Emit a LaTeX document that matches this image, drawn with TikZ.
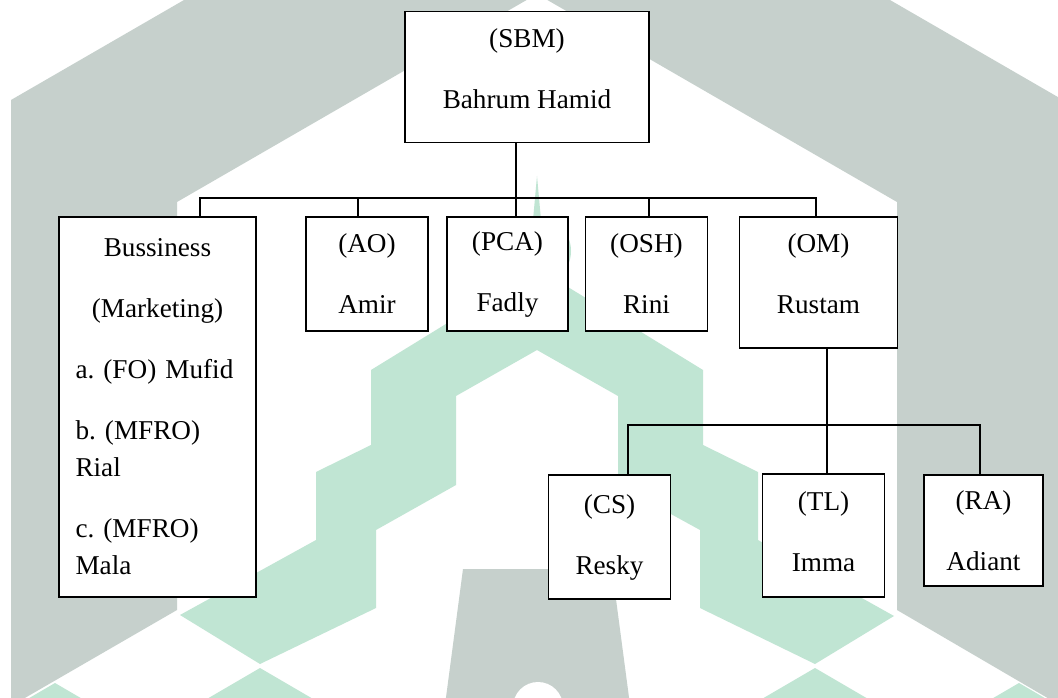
\documentclass[tikz,border=0pt]{standalone}
\usepackage{fontspec}
\setmainfont{Liberation Serif}
\definecolor{LogoGrey}{HTML}{C6D0CC}
\definecolor{LogoGreen}{HTML}{C0E5D3}

\begin{document}
\begin{tikzpicture}[x=1pt, y=-1pt,
		unit/.style={rectangle, draw=black, fill=white, line width=1.8pt, align=center, inner sep=0pt,
			font=\fontsize{27.2}{37}\selectfont\frenchspacing},
		link/.style={line width=1.5pt}]
	\useasboundingbox (0,0) rectangle (1058,698);
	\clip (0,0) rectangle (1058,698);
	\fill[white] (0,0) rectangle (1058,698);
	% watermark
	\fill[LogoGrey] (11,706) -- (11,100) -- (537,-204) -- (1063,100) -- (1063,707) -- (897,610) -- (897,202) -- (537,-6) -- (177,202) -- (177,610) -- cycle;
	\fill[LogoGreen] (537,268) -- (703,370) -- (703,445) -- (758,472) -- (758,540) -- (894,616) -- (815,664) -- (700,608) -- (700,530) -- (618,485) -- (618,396) -- (537,350) -- (456,396) -- (456,485) -- (376,530) -- (376,608) -- (260,664) -- (180,615) -- (316,540) -- (316,472) -- (371,445) -- (371,370) -- cycle;
	\fill[LogoGreen] (537,251) circle[radius=34pt];
	\fill[LogoGreen] (537,176) -- (541,220) -- (533,220) -- cycle;
	\foreach \x/\y in {55/683, 260/668, 815/668, 1019/683}
		\fill[LogoGreen] (\x,\y) -- ++(60,35) -- ++(-60,35) -- ++(-60,-35) -- cycle;
	\fill[LogoGrey] (463,569) -- (612,569) -- (630,705) -- (445,705) -- cycle;
	\fill[white] (538,707) circle[radius=25pt];

	\node[unit, minimum width=244pt, minimum height=131pt] (SBM) at (527,77) {(SBM)\\[24pt]Bahrum Hamid\rule[-16pt]{0pt}{0pt}};
	\node[unit, minimum width=197pt, minimum height=380pt, text width=164pt, align=left] (Biz) at (157.5,407) {\hyphenpenalty=10000\makebox[164pt]{Bussiness}\\[24pt]\makebox[164pt]{(Marketing)}\\[24pt]a. (FO) Mufid\\[24pt]b. (MFRO)\\Rial\\[24pt]c. (MFRO)\\Mala};
	\node[unit, minimum width=122pt, minimum height=114pt] (AO) at (367,274) {(AO)\\[24pt]Amir};
	\node[unit, minimum width=121pt, minimum height=114pt] (PCA) at (507.5,274) {(PCA)\\[24pt]Fadly};
	\node[unit, minimum width=122pt, minimum height=114pt] (OSH) at (646.5,274) {(OSH)\\[24pt]Rini};
	\node[unit, minimum width=158pt, minimum height=131pt] (OM) at (818.5,282.5) {(OM)\\[24pt]Rustam\rule[-18pt]{0pt}{0pt}};
	\node[unit, minimum width=122pt, minimum height=124pt] (CS) at (609.5,537) {(CS)\\[24pt]Resky};
	\node[unit, minimum width=122pt, minimum height=123pt] (TL) at (823.5,535.5) {(TL)\\[24pt]Imma\rule[-8pt]{0pt}{0pt}};
	\node[unit, minimum width=119pt, minimum height=111pt] (RA) at (983.5,530.5) {(RA)\\[24pt]Adiant};

	\coordinate (TopBus) at (516,198);
	\coordinate (BizDrop) at (200,198);
	\coordinate (AODrop) at (358,198);
	\coordinate (OSHDrop) at (649,198);
	\coordinate (OMDrop) at (816,198);
	\coordinate (OMBus) at (827,425);
	\coordinate (CSDrop) at (628,425);
	\coordinate (RADrop) at (980,425);
	\draw[link] (SBM.south -| TopBus) -- (TopBus |- PCA.north);
	\draw[link] (BizDrop |- Biz.north) -- (BizDrop) -- (OMDrop) -- (OMDrop |- OM.north);
	\draw[link] (AODrop) -- (AODrop |- AO.north);
	\draw[link] (OSHDrop) -- (OSHDrop |- OSH.north);
	\draw[link] (OM.south -| OMBus) -- (OMBus |- TL.north);
	\draw[link] (CSDrop |- CS.north) -- (CSDrop) -- (RADrop) -- (RADrop |- RA.north);
\end{tikzpicture}
\end{document}
